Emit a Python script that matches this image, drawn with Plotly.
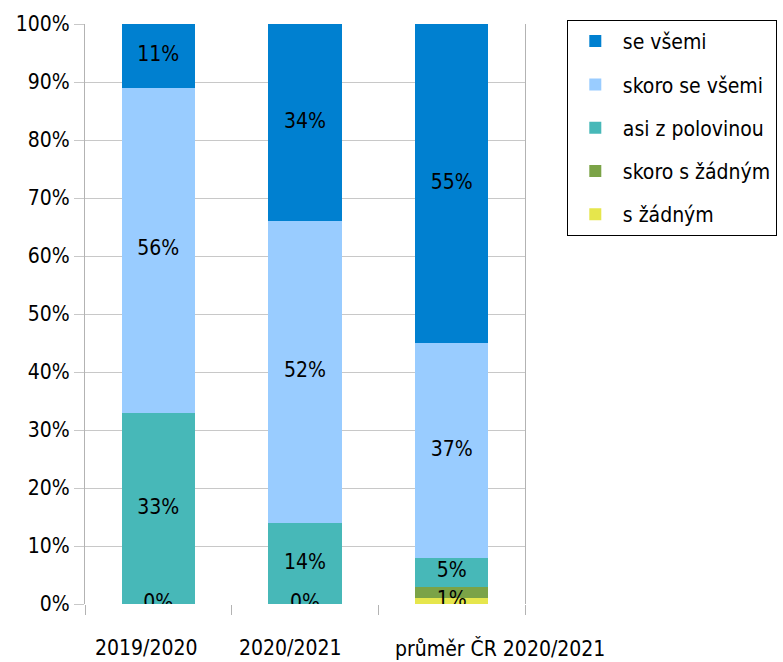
import plotly.graph_objects as go

categories = ["2019/2020", "2020/2021", "průměr ČR 2020/2021"]

# share of pupils (%) for each answer, per category
s_zadnym = [0, 0, 1]
skoro_s_zadnym = [0, 0, 2]
asi_z_polovinou = [33, 14, 5]
skoro_se_vsemi = [56, 52, 37]
se_vsemi = [11, 34, 55]

# stacked bottom-up; last field = legend position (1 = top)
series = [
    ("s žádným", s_zadnym, "#E6E64C", True, 5),
    ("skoro s žádným", skoro_s_zadnym, "#7BA347", False, 4),
    ("asi z polovinou", asi_z_polovinou, "#47B8B8", True, 3),
    ("skoro se všemi", skoro_se_vsemi, "#99CCFF", True, 2),
    ("se všemi", se_vsemi, "#0080D0", True, 1),
]

FONT = "DejaVu Sans Condensed, DejaVu Sans, sans-serif"
FSIZE = 21

fig = go.Figure()
base = [0] * len(categories)
label_x, label_y, label_t = [], [], []
for name, vals, color, labelled, rank in series:
    fig.add_trace(go.Bar(
        x=categories, y=vals, name=name, marker=dict(color=color, line=dict(width=0)),
        width=0.5, legendgroup=name, legendrank=rank,
    ))
    if labelled:
        for i, v in enumerate(vals):
            label_x.append(categories[i])
            label_y.append(base[i] + v / 2)
            label_t.append(f"{v}%")
    base = [b + v for b, v in zip(base, vals)]

fig.add_trace(go.Scatter(
    x=label_x, y=label_y, text=label_t, mode="text",
    textfont=dict(family=FONT, size=FSIZE, color="black"),
    showlegend=False, hoverinfo="skip",
))

# category names below the axis, nudged apart so the long one fits
label_shift = [-12, -15, 48]
for cat, dx in zip(categories, label_shift):
    fig.add_annotation(
        x=cat, xref="x", y=0, yref="paper", yanchor="top", yshift=-30,
        xshift=dx, text=cat, showarrow=False,
        font=dict(family=FONT, size=FSIZE, color="black"),
    )

fig.update_layout(
    width=783, height=662,
    margin=dict(l=85, r=258, t=24, b=58, autoexpand=False),
    barmode="stack",
    plot_bgcolor="white", paper_bgcolor="white",
    font=dict(family=FONT, size=FSIZE, color="black"),
    legend=dict(
        x=1.095, y=1.007, xanchor="left", yanchor="top",
        bordercolor="black", borderwidth=1, bgcolor="white",
        traceorder="grouped", tracegroupgap=13, itemwidth=45,
        font=dict(family=FONT, size=FSIZE, color="black"),
    ),
    xaxis=dict(
        type="category", tickson="boundaries", ticks="outside", ticklen=10,
        tickcolor="#b3b3b3", showgrid=False, showline=False,
        showticklabels=False, range=[-0.5, 2.5],
    ),
    yaxis=dict(
        range=[0, 100], tickvals=list(range(0, 101, 10)),
        ticktext=[f"{v}%" for v in range(0, 101, 10)],
        ticks="outside", ticklen=10, tickcolor="#c8c8c8",
        showgrid=True, gridcolor="#c8c8c8", gridwidth=1,
        showline=True, linecolor="#b3b3b3", mirror=True,
        zeroline=False,
    ),
)

fig.write_html("out.html")
